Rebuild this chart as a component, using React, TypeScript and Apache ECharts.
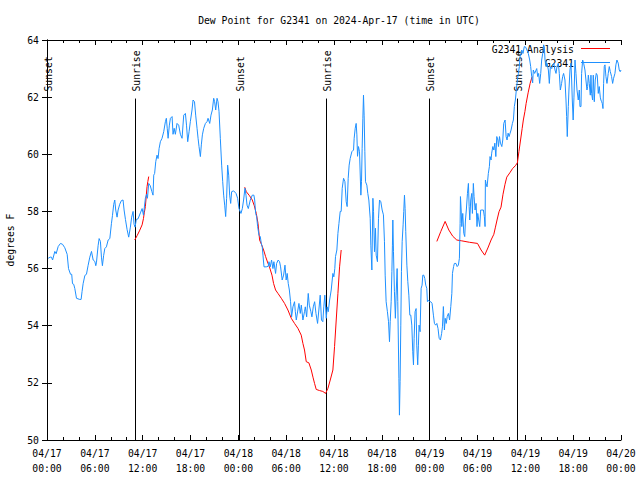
import React, { useEffect, useRef } from "react";
import * as echarts from "echarts";

// Time is in hours since 2024-04-17 00:00 UTC
const X_TICK_HOURS = [0, 6, 12, 18, 24, 30, 36, 42, 48, 54, 60, 66, 72];
const Y_TICKS = [50, 52, 54, 56, 58, 60, 62, 64];

const SUN_EVENT_HOURS = [0.06, 11.0, 24.04, 34.94, 47.97, 59.0];
const SUN_EVENT_LABELS = ["Sunset", "Sunrise", "Sunset", "Sunrise", "Sunset", "Sunrise"];

const OBS_NAME = "G2341";
const ANALYSIS_NAME = "G2341 Analysis";

const OBS: [number, number][] = [
  [0.15,56.36],[0.4,56.4],[0.56,56.4],[0.7,56.3],[0.98,56.6],[1.15,56.52],[1.4,56.77],[1.69,56.88],[1.95,56.85],[2.23,56.73],[2.53,56.5],[2.7,56.0],[2.95,55.8],[3.1,55.8],[3.2,55.47],[3.35,55.45],[3.49,55.3],[3.7,54.96],[4.1,54.92],[4.28,54.92],[4.4,55.2],[4.53,55.47],[4.75,55.76],[4.95,55.8],[5.15,56.1],[5.37,56.4],[5.58,56.6],[5.79,56.3],[6.0,56.25],[6.12,56.1],[6.2,56.2],[6.41,56.8],[6.54,57.05],[6.7,56.95],[6.83,56.4],[6.95,56.1],[7.1,56.45],[7.25,56.7],[7.45,56.76],[7.67,57.0],[7.88,57.05],[8.08,57.57],[8.21,57.85],[8.37,58.25],[8.5,58.4],[8.62,58.05],[8.79,57.8],[8.92,58.05],[9.12,58.25],[9.33,58.38],[9.54,58.4],[9.67,58.05],[9.84,57.72],[10.05,57.36],[10.25,57.1],[10.46,57.45],[10.62,57.8],[10.8,58.0],[10.92,57.55],[11.05,57.45],[11.2,57.72],[11.42,57.74],[11.72,57.95],[11.93,58.1],[12.1,57.87],[12.34,58.46],[12.5,58.6],[12.6,58.46],[12.76,58.98],[12.95,58.9],[13.15,58.7],[13.3,58.57],[13.39,59.27],[13.5,59.33],[13.64,59.74],[13.8,59.97],[13.93,59.85],[14.06,60.2],[14.22,60.44],[14.43,60.56],[14.64,60.79],[14.85,61.14],[14.97,61.26],[15.08,60.91],[15.19,60.56],[15.35,61.02],[15.48,61.26],[15.69,61.32],[15.81,60.7],[15.95,60.91],[16.1,60.7],[16.31,61.08],[16.52,61.02],[16.73,60.7],[16.94,60.56],[17.15,61.37],[17.36,61.43],[17.5,61.02],[17.65,60.44],[17.82,60.79],[17.98,61.14],[18.19,61.55],[18.32,61.9],[18.5,61.84],[18.65,61.37],[18.82,60.91],[18.95,60.56],[19.07,60.27],[19.24,59.92],[19.36,60.33],[19.49,60.68],[19.66,60.91],[19.87,61.08],[20.07,61.14],[20.2,61.26],[20.41,61.08],[20.57,61.37],[20.74,61.55],[20.91,61.96],[21.03,61.84],[21.16,61.55],[21.33,61.96],[21.45,61.84],[21.58,61.49],[21.74,60.56],[21.91,59.62],[22.04,59.04],[22.16,58.57],[22.29,58.22],[22.41,57.82],[22.53,58.46],[22.66,59.62],[22.79,59.27],[22.91,58.57],[23.04,58.28],[23.16,58.69],[23.41,58.72],[23.71,58.63],[23.91,58.46],[24.08,58.1],[24.33,57.93],[24.5,58.1],[24.66,58.4],[24.83,58.81],[24.96,58.57],[25.09,58.22],[25.25,58.1],[25.5,58.4],[25.75,58.57],[25.95,58.57],[26.05,58.4],[26.17,57.93],[26.3,57.82],[26.42,57.47],[26.59,57.17],[26.75,57.12],[26.88,56.88],[27.0,56.76],[27.09,56.47],[27.22,56.06],[27.5,56.06],[27.75,56.08],[27.84,56.24],[28.0,56.06],[28.17,56.3],[28.34,56.0],[28.46,56.24],[28.67,55.83],[28.8,56.18],[29.0,56.3],[29.17,56.24],[29.3,56.06],[29.5,55.6],[29.68,55.77],[29.85,56.12],[30.0,55.6],[30.13,55.83],[30.26,55.48],[30.4,55.25],[30.55,54.84],[30.68,54.31],[30.85,54.66],[31.05,54.84],[31.15,54.49],[31.27,54.2],[31.47,54.55],[31.6,54.78],[31.77,54.43],[31.9,54.72],[32.1,54.2],[32.3,54.49],[32.4,54.66],[32.57,54.31],[32.77,55.13],[32.9,54.72],[33.1,54.49],[33.23,54.31],[33.4,54.66],[33.57,54.84],[33.74,54.43],[33.94,54.08],[34.1,54.55],[34.27,55.07],[34.43,54.2],[34.6,54.14],[34.72,54.66],[34.85,55.07],[35.03,54.26],[35.15,54.66],[35.28,54.49],[35.45,54.9],[35.65,55.25],[35.86,55.83],[35.98,55.71],[36.1,56.0],[36.19,56.42],[36.36,56.65],[36.49,57.23],[36.62,57.58],[36.78,58.0],[36.9,58.0],[37.03,58.81],[37.2,59.16],[37.37,59.04],[37.53,58.34],[37.65,58.17],[37.78,59.16],[37.9,59.62],[38.03,59.85],[38.24,60.09],[38.45,60.15],[38.53,60.56],[38.66,60.91],[38.78,61.08],[38.87,60.68],[38.95,59.93],[39.07,60.27],[39.2,60.09],[39.37,58.57],[39.45,59.04],[39.53,60.21],[39.62,61.26],[39.7,62.07],[39.78,61.37],[39.87,60.09],[39.95,59.04],[40.12,58.92],[40.24,58.63],[40.37,58.4],[40.54,57.76],[40.62,56.82],[40.75,55.95],[40.88,58.46],[40.96,58.0],[41.08,56.59],[41.2,57.41],[41.29,56.47],[41.45,56.24],[41.58,57.76],[41.71,58.4],[41.87,58.34],[42.04,58.05],[42.2,57.88],[42.33,56.94],[42.42,55.77],[42.54,54.84],[42.7,54.49],[42.84,54.14],[42.96,53.44],[43.05,54.14],[43.17,54.84],[43.26,55.89],[43.33,56.82],[43.38,57.7],[43.46,56.59],[43.58,55.19],[43.7,54.26],[43.79,55.07],[43.92,56.0],[44.0,54.84],[44.14,52.16],[44.21,50.87],[44.29,52.04],[44.38,54.02],[44.46,55.89],[44.55,56.94],[44.67,57.53],[44.75,58.0],[44.84,58.57],[44.92,58.1],[45.0,57.29],[45.14,56.12],[45.26,55.54],[45.39,55.07],[45.51,54.37],[45.63,54.37],[45.76,54.02],[45.88,53.09],[45.97,52.63],[46.05,53.56],[46.17,54.49],[46.3,54.6],[46.38,53.32],[46.5,52.63],[46.59,53.32],[46.67,54.02],[46.8,53.79],[46.93,55.31],[47.05,55.42],[47.14,55.77],[47.26,55.77],[47.39,55.65],[47.51,55.42],[47.64,55.31],[47.72,54.84],[47.85,54.9],[47.97,54.84],[48.14,54.84],[48.3,54.78],[48.47,54.37],[48.6,54.08],[48.75,54.02],[48.9,54.08],[49.05,53.9],[49.19,53.56],[49.35,53.5],[49.5,53.73],[49.6,53.96],[49.72,54.67],[49.85,53.85],[49.95,54.26],[50.08,54.08],[50.2,54.32],[50.35,54.43],[50.5,54.2],[50.65,54.67],[50.78,55.13],[50.86,55.83],[51.0,56.07],[51.1,56.18],[51.3,56.18],[51.45,56.07],[51.6,56.12],[51.73,56.36],[51.82,57.58],[51.86,58.52],[51.95,58.05],[52.03,57.47],[52.15,57.93],[52.28,57.23],[52.4,57.12],[52.49,57.7],[52.6,58.05],[52.74,58.63],[52.86,58.98],[52.95,58.17],[53.03,57.7],[53.15,58.4],[53.28,58.63],[53.36,57.93],[53.48,58.98],[53.57,58.52],[53.7,58.05],[53.82,58.28],[53.94,57.47],[54.03,57.93],[54.15,57.7],[54.28,57.47],[54.4,58.05],[54.53,58.05],[54.74,58.05],[54.86,57.82],[54.95,57.47],[54.99,59.1],[55.07,58.98],[55.2,58.86],[55.36,59.33],[55.49,59.57],[55.57,59.92],[55.7,59.8],[55.78,60.04],[55.92,60.27],[56.05,60.15],[56.17,60.39],[56.3,59.92],[56.42,60.62],[56.55,60.5],[56.63,60.27],[56.76,60.62],[56.88,60.39],[57.05,60.27],[57.17,60.5],[57.29,61.08],[57.46,61.2],[57.59,60.62],[57.71,60.5],[57.84,60.74],[57.96,60.62],[58.09,60.74],[58.21,60.85],[58.38,61.08],[58.5,61.2],[58.62,61.67],[58.75,61.9],[58.87,62.25],[59.0,62.6],[59.13,62.83],[59.25,63.07],[59.34,63.42],[59.46,63.53],[59.55,63.65],[59.71,63.53],[59.87,63.77],[60.04,63.75],[60.2,63.65],[60.37,63.53],[60.55,63.3],[60.67,63.07],[60.8,62.72],[60.92,62.5],[61.0,62.95],[61.17,62.83],[61.43,63.0],[61.55,62.72],[61.67,62.83],[61.8,62.48],[61.93,62.83],[62.05,63.3],[62.18,63.53],[62.3,63.83],[62.38,63.77],[62.47,63.3],[62.6,63.07],[62.72,63.19],[62.89,62.95],[63.01,62.48],[63.14,63.07],[63.31,63.0],[63.43,63.13],[63.56,63.19],[63.72,62.95],[63.85,62.83],[63.97,63.07],[64.14,63.19],[64.26,62.83],[64.39,62.25],[64.55,62.48],[64.68,62.72],[64.8,62.83],[64.97,62.6],[65.1,61.9],[65.18,61.32],[65.26,60.62],[65.39,61.67],[65.47,62.25],[65.6,62.95],[65.72,63.19],[65.81,62.6],[65.89,61.9],[66.0,61.2],[66.1,62.0],[66.23,63.3],[66.35,62.83],[66.48,62.25],[66.64,61.9],[66.77,62.25],[66.85,61.67],[66.98,61.67],[67.06,62.83],[67.19,63.3],[67.31,63.19],[67.48,62.95],[67.6,62.6],[67.73,62.25],[67.81,62.37],[67.9,62.77],[68.02,62.48],[68.15,62.07],[68.23,62.77],[68.31,62.13],[68.44,61.9],[68.52,62.77],[68.65,61.84],[68.77,62.6],[68.9,62.83],[69.02,62.77],[69.15,62.13],[69.27,62.37],[69.4,62.0],[69.48,61.9],[69.57,61.84],[69.65,61.78],[69.74,61.6],[69.82,62.48],[69.9,63.07],[69.99,63.13],[70.11,62.72],[70.24,62.48],[70.4,62.83],[70.53,63.07],[70.65,62.9],[70.82,62.72],[70.95,62.48],[71.07,62.66],[71.24,62.83],[71.36,63.13],[71.49,63.3],[71.65,63.19],[71.78,62.95],[71.9,62.89],[72.0,62.95]
];

const ANALYSIS_1: [number, number][] = [
  [11.0,57.0],[11.3,57.15],[11.6,57.32],[11.93,57.53],[12.1,57.75],[12.2,57.95],[12.34,58.17],[12.45,58.55],[12.55,58.87],[12.65,59.05],[12.76,59.22]
];
const ANALYSIS_2: [number, number][] = [
  [24.8,58.85],[25.0,58.69],[25.4,58.55],[25.75,58.4],[26.0,58.2],[26.25,57.93],[26.47,57.58],[26.67,57.0],[26.9,56.85],[27.17,56.65],[27.42,56.42],[27.72,56.18],[27.9,56.06],[28.22,55.77],[28.42,55.48],[28.67,55.25],[28.97,55.13],[29.39,54.96],[29.8,54.78],[30.22,54.55],[30.64,54.26],[31.05,54.08],[31.47,53.91],[31.89,53.67],[32.1,53.38],[32.3,53.15],[32.52,52.74],[32.85,52.7],[33.15,52.45],[33.36,52.2],[33.56,51.98],[33.77,51.77],[34.19,51.73],[34.6,51.7],[34.94,51.63],[35.24,51.81],[35.53,52.1],[35.86,52.45],[36.07,53.27],[36.28,54.2],[36.49,55.13],[36.7,56.06],[36.9,56.65]
];
const ANALYSIS_3: [number, number][] = [
  [48.9,56.95],[49.4,57.3],[49.94,57.65],[50.4,57.35],[50.9,57.13],[51.4,57.0],[52.03,56.97],[53.0,56.92],[54.0,56.88],[54.45,56.65],[54.9,56.47],[55.3,56.72],[55.7,57.0],[56.05,57.2],[56.25,57.45],[56.45,57.7],[56.7,57.99],[56.95,58.15],[57.2,58.6],[57.45,58.95],[57.67,59.2],[58.05,59.35],[58.4,59.5],[58.75,59.6],[59.0,59.7],[59.2,60.1],[59.4,60.5],[59.6,60.9],[59.75,61.2],[59.95,61.5],[60.1,61.78],[60.35,62.15],[60.6,62.48],[60.85,62.72]
];

const FONT = "'DejaVu Sans Mono', 'Liberation Mono', monospace";
const FS = 9.75;
const BLUE = "#1e90ff";
const RED = "#ff0000";

function pad(n: number) {
  return n < 10 ? "0" + n : String(n);
}

export default function App() {
  const ref = useRef<HTMLDivElement>(null);
  useEffect(() => {
    if (!ref.current) return;
    const chart = echarts.init(ref.current, undefined, { renderer: "svg" });
    const xFmt = (h: number) => {
      const day = 17 + Math.floor(h / 24);
      const hh = h % 24;
      return `04/${pad(day)}\n${pad(hh)}:00`;
    };
    const axisCommon = {
      axisLine: { show: true, lineStyle: { color: "#000", width: 1 } },
      splitLine: { show: false },
    };
    const redSeries = [ANALYSIS_1, ANALYSIS_2, ANALYSIS_3].map((d) => ({
      type: "line",
      name: ANALYSIS_NAME,
      data: d,
      showSymbol: false,
      symbol: "none",
      lineStyle: { color: RED, width: 1 },
      z: 3,
    }));
    chart.setOption({
      animation: false,
      backgroundColor: "#fff",
      title: {
        text: "Dew Point for G2341 on 2024-Apr-17 (time in UTC)",
        left: 334,
        top: 10,
        textAlign: "center",
        textStyle: { fontFamily: FONT, fontSize: FS, fontWeight: "normal", color: "#000" },
      },
      grid: { left: 47, right: 19, top: 40, bottom: 40, outerBoundsMode: "none", containLabel: false },
      xAxis: [
        {
          type: "value",
          min: X_TICK_HOURS[0],
          max: X_TICK_HOURS[X_TICK_HOURS.length - 1],
          interval: 6,
          ...axisCommon,
          axisTick: { show: true, inside: true, length: 5, lineStyle: { color: "#000" } },
          minorTick: { show: true, splitNumber: 3, length: 3, lineStyle: { color: "#000" } },
          axisLabel: {
            formatter: xFmt,
            fontFamily: FONT,
            fontSize: FS,
            color: "#000",
            margin: 6,
            lineHeight: 15,
          },
        },
        {
          type: "value",
          position: "top",
          min: X_TICK_HOURS[0],
          max: X_TICK_HOURS[X_TICK_HOURS.length - 1],
          interval: 6,
          ...axisCommon,
          axisTick: { show: true, inside: true, length: 5, lineStyle: { color: "#000" } },
          minorTick: { show: true, splitNumber: 3, length: 3, lineStyle: { color: "#000" } },
          axisLabel: { show: false },
        },
      ],
      yAxis: [
        {
          type: "value",
          min: Y_TICKS[0],
          max: Y_TICKS[Y_TICKS.length - 1],
          interval: 2,
          name: "degrees F",
          nameLocation: "middle",
          nameRotate: 90,
          nameGap: 32,
          nameTextStyle: { fontFamily: FONT, fontSize: FS, color: "#000" },
          ...axisCommon,
          axisTick: { show: true, inside: true, length: 5, lineStyle: { color: "#000" } },
          axisLabel: { fontFamily: FONT, fontSize: FS, color: "#000", margin: 8 },
        },
        {
          type: "value",
          position: "right",
          min: Y_TICKS[0],
          max: Y_TICKS[Y_TICKS.length - 1],
          interval: 2,
          ...axisCommon,
          axisTick: { show: true, inside: true, length: 5, lineStyle: { color: "#000" } },
          axisLabel: { show: false },
        },
      ],
      series: [
        {
          type: "custom",
          name: "sun",
          data: SUN_EVENT_HOURS.map((h, i) => [h, i]),
          renderItem: (params: any, api: any) => {
            const t = api.value(0);
            const idx = api.value(1);
            const bottom = api.coord([t, 50]);
            const top = api.coord([t, 61.95]);
            const x = Math.round(bottom[0]) + 0.5;
            return {
              type: "group",
              children: [
                {
                  type: "line",
                  shape: { x1: x, y1: bottom[1], x2: x, y2: top[1] },
                  style: { stroke: "#000", lineWidth: 1 },
                },
                {
                  type: "text",
                  x: x + 1,
                  y: top[1] - 7,
                  rotation: Math.PI / 2,
                  style: {
                    text: SUN_EVENT_LABELS[idx],
                    fontFamily: FONT,
                    fontSize: FS,
                    fill: "#000",
                    align: "left",
                    verticalAlign: "middle",
                  },
                },
              ],
            };
          },
          z: 1,
        },
        ...redSeries,
        {
          type: "line",
          name: OBS_NAME,
          data: OBS,
          showSymbol: false,
          symbol: "none",
          lineStyle: { color: BLUE, width: 1 },
          z: 4,
        },
      ],
      graphic: [
        {
          type: "text",
          x: 574,
          y: 49,
          style: { text: ANALYSIS_NAME, fontFamily: FONT, fontSize: FS, fill: "#000", align: "right", verticalAlign: "middle" },
          z: 2,
        },
        { type: "line", shape: { x1: 581, y1: 48.5, x2: 610, y2: 48.5 }, style: { stroke: RED, lineWidth: 1 }, z: 2 },
        {
          type: "text",
          x: 574,
          y: 63,
          style: { text: OBS_NAME, fontFamily: FONT, fontSize: FS, fill: "#000", align: "right", verticalAlign: "middle" },
          z: 2,
        },
        { type: "line", shape: { x1: 581, y1: 62.5, x2: 610, y2: 62.5 }, style: { stroke: BLUE, lineWidth: 1 }, z: 2 },
      ],
    });
    return () => chart.dispose();
  }, []);
  return <div ref={ref} style={{ width: 640, height: 480, position: "absolute", left: 0, top: 0 }} />;
}
